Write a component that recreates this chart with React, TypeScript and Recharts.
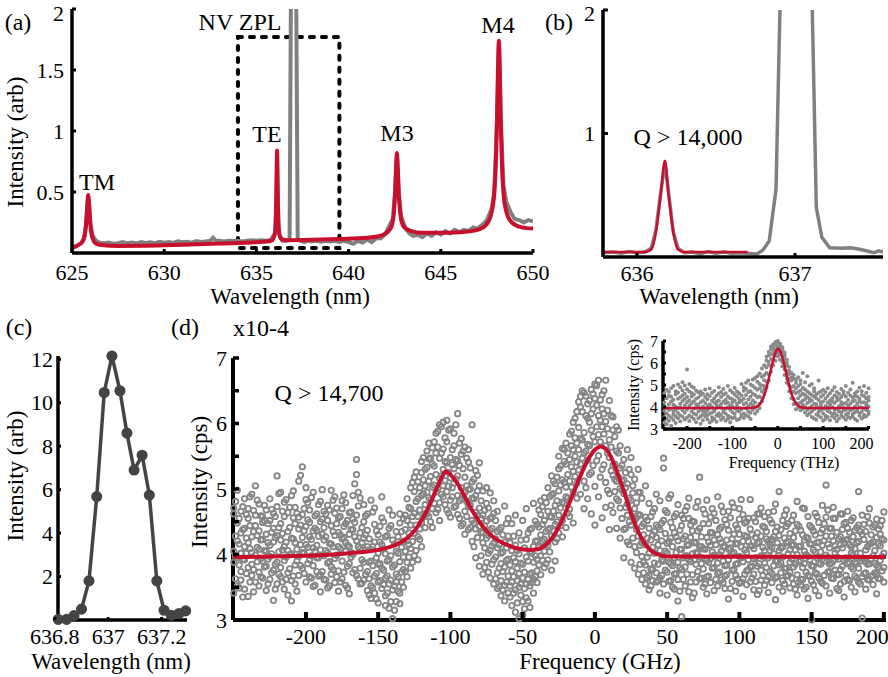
import type { CSSProperties } from 'react'
import { ComposedChart, Line, Scatter, XAxis, YAxis, ReferenceArea } from 'recharts'

const W = 888
const H = 677
const RED = '#c8102e'
const GRAY = '#808080'
const DARK = '#444444'
const FONT = "'Liberation Serif', 'DejaVu Serif', serif"
const AX_W = 30 // room reserved for each y axis
const AX_H = 30 // room reserved for each x axis
const TICK_PX = 22
const TITLE_PX = 23

// (a) PL spectrum, wavelength (nm) vs intensity (arb)
const spectrumRaw: [number, number][] = [
  [625, 0.045], [625.25, 0.06], [625.5, 0.08], [625.65, 0.12], [625.75, 0.22], [625.83, 0.38],
  [625.88, 0.46], [625.93, 0.39], [626.0, 0.24], [626.1, 0.15], [626.3, 0.1], [626.5, 0.085],
  [626.75, 0.08], [627, 0.085], [627.25, 0.075], [627.5, 0.08], [627.75, 0.09], [628, 0.08],
  [628.25, 0.085], [628.5, 0.078], [628.75, 0.09], [629, 0.083], [629.25, 0.088], [629.5, 0.08],
  [629.75, 0.092], [630, 0.085], [630.25, 0.09], [630.5, 0.082], [630.75, 0.095], [631, 0.088],
  [631.25, 0.092], [631.5, 0.085], [631.75, 0.098], [632, 0.09], [632.25, 0.095], [632.5, 0.1],
  [632.65, 0.125], [632.8, 0.1], [633, 0.1], [633.25, 0.095], [633.5, 0.1], [633.75, 0.098],
  [634, 0.1], [634.25, 0.095], [634.5, 0.1], [634.75, 0.105], [635, 0.1], [635.25, 0.105],
  [635.5, 0.1], [635.75, 0.105], [636.02, 0.16], [636.08, 0.45], [636.12, 0.8], [636.16, 0.45],
  [636.22, 0.16], [636.4, 0.1], [636.6, 0.1], [636.8, 0.11], [636.89, 2.6], [637.14, 2.6],
  [637.24, 0.11], [637.4, 0.1], [637.6, 0.09], [637.8, 0.1], [638, 0.095], [638.25, 0.1],
  [638.5, 0.092], [638.75, 0.1], [639, 0.095], [639.25, 0.1], [639.5, 0.09], [639.75, 0.1],
  [640, 0.09], [640.25, 0.075], [640.5, 0.1], [640.75, 0.085], [641, 0.11], [641.25, 0.09],
  [641.5, 0.12], [641.75, 0.12], [642, 0.16], [642.2, 0.22], [642.4, 0.28], [642.52, 0.5],
  [642.62, 0.79], [642.72, 0.5], [642.85, 0.3], [643.1, 0.2], [643.3, 0.16], [643.5, 0.14],
  [643.75, 0.15], [644, 0.13], [644.25, 0.16], [644.5, 0.14], [644.75, 0.17], [645, 0.15],
  [645.25, 0.18], [645.5, 0.16], [645.75, 0.19], [646, 0.17], [646.25, 0.19], [646.5, 0.18],
  [646.75, 0.21], [647, 0.2], [647.25, 0.23], [647.5, 0.27], [647.75, 0.36], [647.9, 0.5],
  [648.05, 1.1], [648.15, 1.7], [648.25, 1.1], [648.4, 0.55], [648.55, 0.42], [648.8, 0.33],
  [649, 0.28], [649.25, 0.27], [649.5, 0.25], [649.75, 0.27], [650, 0.26],
]

const spectrumFit: [number, number][] = [
  [625, 0.04], [625.4, 0.07], [625.55, 0.09], [625.65, 0.12], [625.73, 0.185], [625.78, 0.265],
  [625.83, 0.39], [625.88, 0.475], [625.93, 0.39], [625.98, 0.265], [626.03, 0.185], [626.13, 0.113],
  [626.28, 0.08], [626.6, 0.065], [627.5, 0.058], [629, 0.06], [631, 0.068], [633, 0.077],
  [635, 0.088], [635.8, 0.1], [635.92, 0.12], [636.02, 0.18], [636.06, 0.29], [636.09, 0.53],
  [636.12, 0.84], [636.15, 0.53], [636.18, 0.29], [636.22, 0.18], [636.32, 0.12], [636.6, 0.105],
  [638, 0.108], [639.5, 0.115], [641, 0.125], [641.8, 0.145], [642.22, 0.19], [642.37, 0.24],
  [642.47, 0.36], [642.52, 0.485], [642.57, 0.69], [642.62, 0.82], [642.67, 0.69], [642.72, 0.485],
  [642.77, 0.37], [642.87, 0.26], [643.02, 0.21], [643.4, 0.18], [644, 0.165], [645, 0.165],
  [646, 0.17], [647, 0.19], [647.45, 0.23], [647.75, 0.33], [647.9, 0.49], [648, 0.8],
  [648.05, 1.1], [648.1, 1.51], [648.15, 1.74], [648.2, 1.51], [648.25, 1.1], [648.3, 0.8],
  [648.4, 0.49], [648.55, 0.34], [648.85, 0.25], [649.4, 0.21], [650, 0.2],
]

// (b) close-up of the TE mode next to the NV ZPL
const zoomRaw: [number, number][] = [
  [635.785, 0.035], [635.85, 0.04], [635.9, 0.03], [635.95, 0.045], [636, 0.035], [636.05, 0.04],
  [636.09, 0.07], [636.12, 0.22], [636.15, 0.52], [636.177, 0.76], [636.2, 0.52], [636.23, 0.2],
  [636.26, 0.07], [636.3, 0.035], [636.35, 0.04], [636.4, 0.025], [636.45, 0.045], [636.5, 0.03],
  [636.55, 0.04], [636.6, 0.03], [636.65, 0.035], [636.7, 0.03], [636.76, 0.025], [636.8, 0.06],
  [636.837, 0.13], [636.88, 0.55], [636.915, 2.6], [637.1, 2.6], [637.135, 0.4], [637.17, 0.16],
  [637.22, 0.075], [637.3, 0.07], [637.35, 0.075], [637.4, 0.065], [637.45, 0.05], [637.5, 0.035],
  [637.53, 0.05], [637.557, 0.04],
]

const zoomFit: [number, number][] = [
  [635.785, 0.04], [636.05, 0.04], [636.09, 0.06], [636.12, 0.2], [636.15, 0.5], [636.177, 0.78],
  [636.2, 0.5], [636.23, 0.2], [636.26, 0.06], [636.3, 0.04], [636.7, 0.04],
]

// (c) NV zero-phonon line
const zplRaw: [number, number][] = [
  [636.813, 0.03], [636.844, 0.03], [636.872, 0.2], [636.9, 0.5], [636.928, 1.8], [636.957, 5.68],
  [636.985, 10.47], [637.014, 12.15], [637.044, 10.55], [637.07, 8.6], [637.097, 6.9], [637.127, 7.58],
  [637.154, 5.75], [637.182, 1.8], [637.209, 0.45], [637.236, 0.22], [637.265, 0.3], [637.29, 0.42],
]

// (d) transmission sweep, first pass: each row is [GHz, counts...]
const sweepRows: number[][] = [
  [-250, 4.62, 3.41, 4.05, 3.88, 4.71], [-247.5, 3.95, 4.48, 3.52, 4.21, 4.98],
  [-245, 4.33, 3.74, 4.66, 4.02, 3.61], [-242.5, 4.12, 4.85, 3.47, 3.92, 4.4],
  [-240, 3.8, 4.55, 4.18, 3.36, 4.7], [-237.5, 4.27, 3.68, 4.92, 4.03, 3.85],
  [-235, 4.6, 3.99, 3.58, 4.44, 5.05], [-232.5, 3.73, 4.36, 4.08, 3.52, 4.77],
  [-230, 4.49, 3.9, 4.23, 3.64, 4.58], [-227.5, 4.05, 3.45, 4.68, 4.31, 3.82],
  [-225, 3.97, 4.52, 3.62, 4.85, 4.14], [-222.5, 4.4, 3.76, 4.19, 3.3, 4.63],
  [-220, 3.88, 4.73, 4.29, 3.55, 5.2], [-217.5, 4.22, 3.66, 4.47, 4.95, 3.8],
  [-215, 4.58, 3.91, 4.12, 3.47, 4.8], [-212.5, 3.72, 4.35, 4.06, 4.64, 3.38],
  [-210, 4.25, 3.6, 4.9, 4.01, 3.29], [-207.5, 4.47, 3.84, 4.18, 4.72, 3.55],
  [-205, 5.12, 3.97, 4.39, 3.68, 4.57], [-202.5, 4.03, 5.34, 4.61, 3.79, 4.26],
  [-200, 4.84, 4.15, 3.58, 4.43, 5.02], [-197.5, 3.92, 4.68, 4.27, 3.66, 4.49],
  [-195, 4.36, 3.83, 4.95, 4.1, 3.51], [-192.5, 4.14, 4.62, 3.74, 4.37, 3.95],
  [-190, 3.69, 4.5, 4.07, 4.81, 3.43], [-187.5, 4.41, 3.98, 4.66, 3.62, 4.22],
  [-185, 4.75, 4.03, 3.87, 4.52, 3.49], [-182.5, 3.81, 4.44, 4.98, 4.16, 3.7],
  [-180, 4.29, 3.57, 4.63, 4.88, 3.94], [-177.5, 4.56, 4.12, 3.75, 4.34, 3.44],
  [-175, 3.9, 4.7, 4.24, 3.63, 4.82], [-172.5, 4.18, 3.53, 4.47, 4.05, 4.79],
  [-170, 4.64, 3.86, 4.31, 3.4, 4.12], [-167.5, 4.0, 4.54, 3.72, 4.38, 4.9],
  [-165, 5.45, 4.21, 3.68, 4.6, 5.22], [-162.5, 4.33, 3.79, 4.86, 3.55, 4.09],
  [-160, 4.25, 3.61, 4.5, 3.88, 4.76], [-157.5, 3.74, 4.37, 3.45, 4.12, 4.62],
  [-155, 4.08, 3.52, 4.83, 3.9, 3.33], [-152.5, 4.46, 3.67, 4.19, 3.41, 4.71],
  [-150, 3.85, 4.3, 3.58, 4.02, 3.26], [-147.5, 4.15, 3.48, 4.56, 3.79, 4.88],
  [-145, 3.64, 4.27, 3.37, 4.01, 3.22], [-142.5, 4.4, 3.55, 3.92, 3.18, 4.68],
  [-140, 3.02, 3.81, 4.22, 3.46, 4.6], [-137.5, 3.7, 4.35, 3.28, 4.05, 3.58],
  [-135, 4.48, 3.41, 3.89, 4.62, 3.25], [-132.5, 3.96, 4.55, 3.5, 4.2, 3.77],
  [-130, 4.52, 3.88, 4.85, 4.21, 3.66], [-127.5, 4.7, 4.09, 5.02, 3.79, 4.45],
  [-125, 4.96, 4.32, 3.98, 4.63, 5.18], [-122.5, 4.58, 5.11, 4.27, 4.85, 3.92],
  [-120, 5.25, 4.49, 4.9, 4.12, 5.42], [-117.5, 4.76, 5.3, 4.41, 5.05, 4.62],
  [-115, 5.12, 4.58, 5.46, 4.87, 5.7], [-112.5, 4.7, 5.38, 5.03, 4.41, 5.63],
  [-110, 5.55, 4.95, 5.22, 4.64, 5.85], [-107.5, 5.98, 5.16, 4.79, 5.47, 4.52],
  [-105, 5.3, 6.02, 4.88, 5.61, 5.05], [-102.5, 4.96, 5.72, 5.4, 6.05, 4.68],
  [-100, 5.48, 4.83, 5.92, 5.17, 4.57], [-97.5, 5.66, 5.09, 4.72, 5.85, 5.31],
  [-95, 4.9, 6.15, 5.43, 4.61, 5.2], [-92.5, 5.77, 5.02, 4.44, 5.53, 4.85],
  [-90, 5.18, 4.66, 5.64, 4.95, 4.31], [-87.5, 4.73, 5.41, 4.99, 5.6, 4.38],
  [-85, 5.98, 4.52, 5.11, 4.2, 4.86], [-82.5, 4.64, 5.28, 3.95, 4.9, 4.39],
  [-80, 4.43, 5.05, 3.82, 4.71, 5.4], [-77.5, 4.97, 4.18, 4.6, 3.7, 4.33],
  [-75, 4.25, 4.78, 3.88, 4.51, 5.02], [-72.5, 4.55, 3.64, 4.37, 4.94, 4.06],
  [-70, 3.92, 4.63, 4.17, 3.55, 4.82], [-67.5, 4.35, 3.72, 4.1, 3.48, 4.66],
  [-65, 3.86, 4.41, 3.37, 4.02, 3.6], [-62.5, 4.19, 3.53, 4.74, 3.81, 3.29],
  [-60, 3.67, 4.28, 3.93, 3.41, 4.55], [-57.5, 4.06, 3.22, 3.75, 4.47, 3.58],
  [-55, 3.46, 4.14, 3.12, 3.89, 4.6], [-52.5, 3.02, 3.71, 4.33, 3.5, 4.01],
  [-50, 3.85, 3.28, 4.52, 3.64, 3.08], [-47.5, 4.23, 3.55, 3.96, 3.34, 4.7],
  [-45, 3.7, 4.38, 3.19, 4.05, 3.52], [-42.5, 4.12, 3.62, 4.78, 3.88, 3.41],
  [-40, 3.93, 4.46, 3.57, 4.21, 3.75], [-37.5, 4.3, 3.69, 4.61, 3.98, 4.82],
  [-35, 4.05, 4.52, 3.8, 4.87, 4.23], [-32.5, 4.66, 3.92, 4.38, 5.02, 4.14],
  [-30, 4.28, 4.91, 3.76, 4.57, 5.2], [-27.5, 4.75, 4.19, 5.08, 4.46, 3.9],
  [-25, 5.31, 4.6, 4.33, 4.97, 5.5], [-22.5, 4.52, 5.14, 4.8, 5.62, 4.27],
  [-20, 5.03, 4.41, 5.38, 4.88, 5.7], [-17.5, 5.45, 4.69, 5.84, 5.12, 4.58],
  [-15, 4.95, 5.6, 5.27, 6.02, 4.48], [-12.5, 5.7, 5.09, 6.18, 4.86, 5.41],
  [-10, 5.38, 6.25, 4.92, 5.77, 6.41], [-7.5, 5.86, 5.12, 6.47, 4.7, 5.55],
  [-5, 6.08, 5.44, 4.85, 6.3, 5.68], [-2.5, 5.25, 6.52, 5.9, 4.62, 6.15],
  [0, 5.72, 6.38, 5.04, 6.6, 4.45], [2.5, 6.66, 5.51, 6.12, 4.88, 5.83],
  [5, 5.3, 6.44, 4.56, 5.95, 6.22], [7.5, 6.66, 5.66, 5.1, 6.03, 4.72],
  [10, 5.48, 4.93, 6.35, 5.75, 4.38], [12.5, 5.9, 5.21, 4.64, 6.1, 5.36],
  [15, 4.85, 5.58, 5.12, 4.4, 5.95], [17.5, 5.32, 4.71, 5.66, 4.25, 5.01],
  [20, 4.93, 5.45, 4.38, 5.14, 3.95], [22.5, 5.6, 4.6, 4.19, 5.08, 4.77],
  [25, 4.45, 5.22, 3.88, 4.83, 5.48], [27.5, 4.7, 4.12, 5.15, 3.79, 4.52],
  [30, 4.28, 4.95, 3.7, 4.61, 5.3], [32.5, 4.86, 3.97, 4.43, 3.62, 4.18],
  [35, 3.84, 4.57, 4.15, 5.05, 3.55], [37.5, 4.4, 3.68, 4.78, 4.02, 3.46],
  [40, 4.11, 4.65, 3.77, 4.3, 3.6], [42.5, 3.72, 4.26, 4.92, 3.58, 4.45],
  [45, 4.38, 3.64, 4.06, 4.82, 3.41], [47.5, 5.47, 3.9, 4.52, 3.55, 5.32],
  [50, 4.17, 3.73, 4.64, 3.38, 4.02], [52.5, 3.86, 4.49, 3.6, 4.25, 4.91],
  [55, 4.58, 3.95, 3.47, 4.33, 3.7], [57.5, 3.62, 4.21, 4.76, 3.88, 3.29],
  [60, 4.44, 3.05, 4.08, 3.77, 4.6], [62.5, 3.98, 4.67, 3.52, 4.28, 3.81],
  [65, 4.15, 3.43, 4.55, 3.92, 4.86], [67.5, 3.69, 4.36, 4.01, 3.34, 4.51],
  [70, 4.72, 3.85, 4.19, 3.58, 4.03], [72.5, 5.18, 3.96, 3.63, 4.4, 4.12],
  [75, 3.78, 4.47, 3.5, 4.09, 4.69], [77.5, 4.26, 3.66, 4.83, 3.91, 3.4],
  [80, 3.94, 4.57, 4.14, 3.57, 4.34], [82.5, 4.63, 3.8, 3.45, 4.22, 3.99],
  [85, 3.71, 4.3, 4.88, 3.87, 3.52], [87.5, 4.18, 3.61, 4.42, 4.05, 4.74],
  [90, 3.83, 4.53, 3.48, 4.12, 3.67], [92.5, 4.37, 3.92, 4.66, 3.32, 4.08],
  [95, 4.01, 3.59, 4.24, 4.79, 3.76], [97.5, 3.68, 4.45, 3.85, 4.16, 3.44],
  [100, 4.54, 3.97, 3.56, 4.31, 4.7], [102.5, 3.89, 4.2, 4.61, 3.63, 3.36],
  [105, 4.27, 3.75, 4.03, 4.5, 3.54], [107.5, 3.58, 4.39, 3.81, 4.13, 4.84],
  [110, 4.09, 3.46, 4.56, 3.93, 3.7], [112.5, 4.62, 3.82, 4.17, 3.39, 4.33],
  [115, 3.76, 4.28, 3.61, 4.71, 3.98], [117.5, 4.41, 3.53, 4.06, 3.87, 4.58],
  [120, 3.95, 4.64, 3.42, 4.2, 3.66], [122.5, 4.23, 3.71, 4.48, 3.57, 4.11],
  [125, 3.64, 4.35, 3.9, 4.77, 3.31], [127.5, 4.96, 3.84, 4.29, 3.5, 4.06],
  [130, 4.12, 3.6, 4.52, 3.96, 3.44], [132.5, 3.79, 4.43, 3.67, 4.18, 4.68],
  [135, 4.32, 3.88, 3.49, 4.07, 3.73], [137.5, 3.55, 4.15, 4.6, 3.81, 4.26],
  [140, 4.46, 3.69, 4.0, 3.38, 4.81], [142.5, 3.91, 4.37, 3.54, 4.13, 3.62],
  [145, 4.05, 3.47, 4.7, 3.86, 4.22], [147.5, 3.68, 4.25, 3.33, 4.58, 3.97],
  [150, 3.0, 3.83, 4.41, 3.59, 4.16], [152.5, 4.3, 3.72, 4.04, 3.45, 4.63],
  [155, 3.87, 4.49, 3.64, 4.19, 3.37], [157.5, 4.14, 3.56, 4.75, 3.93, 4.38],
  [160, 5.06, 3.99, 3.52, 4.28, 4.57], [162.5, 3.74, 4.4, 3.85, 3.41, 4.1],
  [165, 4.55, 3.63, 4.21, 3.9, 4.72], [167.5, 3.96, 4.34, 3.48, 4.08, 3.7],
  [170, 4.27, 3.77, 4.62, 3.55, 4.15], [172.5, 3.59, 4.18, 3.92, 4.47, 3.35],
  [175, 4.4, 3.86, 3.62, 4.23, 4.66], [177.5, 3.81, 4.52, 4.02, 3.5, 4.12],
  [180, 4.09, 3.67, 4.37, 3.88, 3.43], [182.5, 4.96, 4.2, 3.58, 4.45, 3.79],
  [185, 3.03, 3.94, 4.31, 3.66, 4.6], [187.5, 4.35, 3.72, 4.07, 3.47, 3.89],
  [190, 3.86, 4.48, 3.61, 4.16, 4.7], [192.5, 4.19, 3.54, 4.42, 3.98, 3.68],
  [195, 3.7, 4.26, 3.84, 4.54, 3.4], [197.5, 4.44, 3.91, 4.13, 3.63, 4.31],
  [200, 4.02, 3.58, 4.65, 3.8, 4.22],
]

// (d) second pass, offset by half a step
const sweepRowsB: number[][] = [
  [-248.75, 4.28, 3.63, 4.81, 3.97], [-246.25, 3.49, 4.16, 4.55, 3.84], [-243.75, 4.73, 3.92, 3.35, 4.38],
  [-241.25, 4.02, 4.61, 3.71, 4.25], [-238.75, 3.58, 4.44, 4.09, 4.88], [-236.25, 4.35, 3.77, 4.67, 3.43],
  [-233.75, 4.11, 4.83, 3.89, 4.29], [-231.25, 3.66, 4.22, 4.59, 3.94], [-228.75, 4.52, 3.81, 4.06, 4.75],
  [-226.25, 3.93, 4.47, 3.55, 4.18], [-223.75, 4.69, 4.01, 3.72, 4.34], [-221.25, 3.85, 4.58, 4.26, 3.47],
  [-218.75, 4.41, 3.7, 4.93, 4.04], [-216.25, 4.07, 4.66, 3.58, 4.32], [-213.75, 4.84, 3.96, 4.19, 3.62],
  [-211.25, 3.78, 4.41, 4.72, 4.0], [-208.75, 4.56, 3.67, 4.24, 4.97], [-206.25, 3.9, 4.63, 4.08, 3.44],
  [-203.75, 4.45, 3.83, 5.21, 4.15], [-201.25, 4.7, 4.02, 3.71, 4.36], [-198.75, 3.86, 4.53, 4.11, 4.79],
  [-196.25, 4.23, 3.64, 4.87, 3.98], [-193.75, 4.59, 4.05, 3.53, 4.4], [-191.25, 3.95, 4.76, 4.28, 3.67],
  [-188.75, 4.31, 3.74, 4.54, 4.99], [-186.25, 4.06, 4.62, 3.61, 4.27], [-183.75, 4.68, 3.89, 4.17, 3.52],
  [-181.25, 3.77, 4.35, 4.83, 4.12], [-178.75, 4.47, 3.99, 3.66, 4.71], [-176.25, 4.09, 4.58, 4.3, 3.58],
  [-173.75, 3.73, 4.26, 4.91, 4.43], [-171.25, 4.52, 3.82, 4.14, 3.49], [-168.75, 3.96, 4.65, 4.38, 4.03],
  [-166.25, 4.27, 5.08, 3.77, 4.49], [-163.75, 4.74, 4.12, 3.63, 4.95], [-161.25, 3.92, 4.41, 3.56, 4.18],
  [-158.75, 4.3, 3.7, 4.07, 4.59], [-156.25, 3.63, 4.24, 3.88, 3.38], [-153.75, 4.12, 3.49, 4.65, 3.83],
  [-151.25, 3.71, 4.36, 3.95, 3.32], [-148.75, 4.43, 3.86, 3.6, 4.19], [-146.25, 3.54, 4.09, 4.5, 3.76],
  [-143.75, 3.9, 3.41, 4.29, 3.67], [-141.25, 3.28, 3.98, 3.61, 4.44], [-138.75, 4.16, 3.52, 3.84, 3.15],
  [-136.25, 3.66, 4.27, 3.44, 4.02], [-133.75, 4.35, 3.73, 4.11, 3.58], [-131.25, 4.05, 4.6, 3.74, 4.38],
  [-128.75, 4.33, 3.96, 4.72, 4.15], [-126.25, 4.58, 4.2, 5.1, 3.88], [-123.75, 4.81, 4.45, 4.06, 5.26],
  [-121.25, 4.39, 5.02, 4.68, 4.23], [-118.75, 5.14, 4.57, 4.93, 5.48], [-116.25, 4.95, 5.33, 4.62, 5.58],
  [-113.75, 5.47, 4.84, 5.19, 4.5], [-111.25, 5.06, 5.72, 4.78, 5.35], [-108.75, 5.64, 5.01, 5.88, 4.69],
  [-106.25, 4.92, 5.55, 5.2, 5.95], [-103.75, 5.78, 5.13, 4.76, 5.42], [-101.25, 5.25, 5.9, 5.04, 4.63],
  [-98.75, 5.02, 5.6, 4.88, 5.37], [-96.25, 5.45, 4.74, 5.98, 5.15], [-93.75, 4.82, 5.36, 5.7, 4.55],
  [-91.25, 5.31, 4.9, 4.47, 5.58], [-88.75, 5.05, 4.58, 5.47, 4.81], [-86.25, 4.75, 5.32, 4.41, 5.0],
  [-83.75, 5.15, 4.48, 4.85, 4.12], [-81.25, 4.6, 4.97, 4.26, 5.21], [-78.75, 4.34, 4.82, 3.98, 4.55],
  [-76.25, 4.68, 4.1, 4.44, 3.8], [-73.75, 4.02, 4.71, 4.29, 3.73], [-71.25, 4.4, 3.85, 4.57, 4.13],
  [-68.75, 3.96, 4.52, 3.63, 4.24], [-66.25, 4.38, 3.79, 4.15, 3.51], [-63.75, 3.74, 4.3, 3.46, 4.04],
  [-61.25, 4.1, 3.58, 3.91, 4.47], [-58.75, 3.52, 4.18, 3.35, 3.84], [-56.25, 3.95, 3.41, 4.28, 3.66],
  [-53.75, 3.6, 4.06, 3.26, 3.79], [-51.25, 3.38, 3.87, 3.55, 4.22], [-48.75, 3.73, 3.17, 4.1, 3.48],
  [-46.25, 3.9, 4.33, 3.62, 3.29], [-43.75, 3.57, 4.02, 4.4, 3.72], [-41.25, 4.2, 3.66, 3.98, 4.51],
  [-38.75, 3.84, 4.42, 4.11, 4.68], [-36.25, 4.46, 3.91, 4.73, 4.2], [-33.75, 4.17, 4.79, 4.35, 3.86],
  [-31.25, 4.58, 4.04, 4.88, 4.4], [-28.75, 4.93, 4.36, 4.66, 5.12], [-26.25, 4.5, 5.18, 4.82, 4.24],
  [-23.75, 5.06, 4.71, 5.35, 4.44], [-21.25, 4.78, 5.42, 5.1, 5.6], [-18.75, 5.22, 4.86, 5.55, 4.63],
  [-16.25, 5.66, 5.03, 5.34, 5.88], [-13.75, 5.19, 5.78, 5.5, 6.08], [-11.25, 5.94, 5.29, 6.33, 5.6],
  [-8.75, 5.47, 6.18, 5.75, 6.5], [-6.25, 6.12, 5.58, 6.42, 5.02], [-3.75, 5.66, 6.35, 5.22, 6.02],
  [-1.25, 6.45, 5.8, 6.22, 5.36], [1.25, 5.95, 6.58, 5.43, 6.28], [3.75, 6.36, 5.72, 6.05, 5.18],
  [6.25, 5.84, 6.5, 5.37, 6.15], [8.75, 6.2, 5.55, 5.92, 4.98], [11.25, 5.64, 6.12, 5.28, 4.75],
  [13.75, 5.38, 4.96, 5.8, 5.15], [16.25, 5.18, 5.55, 4.82, 5.9], [18.75, 4.98, 5.36, 4.55, 5.12],
  [21.25, 5.25, 4.72, 5.02, 4.4], [23.75, 4.86, 5.3, 4.5, 4.15], [26.25, 4.58, 4.94, 4.25, 5.05],
  [28.75, 4.38, 4.79, 4.03, 4.56], [31.25, 4.14, 4.6, 3.85, 4.95], [33.75, 4.47, 3.88, 4.3, 3.72],
  [36.25, 3.96, 4.52, 3.65, 4.25], [38.75, 4.22, 3.78, 4.58, 3.52], [41.25, 3.87, 4.35, 4.02, 4.7],
  [43.75, 4.15, 3.6, 4.42, 3.85], [46.25, 3.92, 4.48, 3.68, 4.21], [48.75, 4.32, 3.76, 4.05, 4.67],
  [51.25, 3.59, 4.2, 4.86, 3.88], [53.75, 4.41, 3.83, 4.12, 3.5], [56.25, 4.03, 4.62, 3.71, 4.27],
  [58.75, 3.8, 4.37, 3.44, 4.08], [61.25, 4.55, 3.95, 4.24, 3.62], [63.75, 3.7, 4.14, 4.73, 3.98],
  [66.25, 4.26, 3.58, 3.89, 4.45], [68.75, 3.92, 4.5, 4.18, 3.41], [71.25, 4.36, 3.74, 4.02, 4.81],
  [73.75, 3.64, 4.27, 3.86, 4.12], [76.25, 4.08, 4.62, 3.55, 3.93], [78.75, 4.47, 3.88, 4.19, 3.67],
  [81.25, 3.79, 4.33, 4.7, 4.04], [83.75, 4.15, 3.62, 3.96, 4.52], [86.25, 4.39, 4.0, 3.73, 4.24],
  [88.75, 3.57, 4.12, 3.9, 4.65], [91.25, 4.22, 3.69, 4.46, 3.84], [93.75, 3.98, 4.56, 4.1, 3.48],
  [96.25, 4.31, 3.77, 4.03, 4.72], [98.75, 3.86, 4.4, 3.63, 4.17], [101.25, 4.12, 3.58, 4.84, 3.95],
  [103.75, 4.48, 4.07, 3.7, 4.29], [106.25, 3.76, 4.2, 3.92, 4.55], [108.75, 4.3, 3.64, 4.13, 3.82],
  [111.25, 3.95, 4.5, 3.59, 4.26], [113.75, 4.19, 3.86, 4.62, 3.45], [116.25, 3.68, 4.11, 3.97, 4.43],
  [118.75, 4.35, 3.8, 4.24, 3.61], [121.25, 4.06, 4.53, 3.74, 4.15], [123.75, 3.83, 4.27, 4.01, 4.66],
  [126.25, 4.42, 3.66, 4.18, 3.9], [128.75, 3.72, 4.38, 3.87, 4.1], [131.25, 4.25, 3.79, 4.6, 3.55],
  [133.75, 4.01, 4.47, 3.68, 4.2], [136.25, 3.64, 4.14, 3.93, 4.52], [138.75, 4.36, 3.85, 4.07, 3.47],
  [141.25, 4.12, 3.58, 4.43, 3.89], [143.75, 3.8, 4.3, 3.62, 4.71], [146.25, 4.26, 3.73, 4.0, 3.5],
  [148.75, 3.92, 4.44, 3.66, 4.16], [151.25, 3.54, 4.07, 4.36, 3.82], [153.75, 4.18, 3.7, 3.95, 4.58],
  [156.25, 3.85, 4.33, 3.59, 4.04], [158.75, 4.47, 3.9, 4.21, 3.68], [161.25, 3.73, 4.16, 4.68, 3.96],
  [163.75, 4.28, 3.64, 3.87, 4.4], [166.25, 4.02, 4.55, 3.76, 4.13], [168.75, 3.69, 4.24, 3.93, 3.45],
  [171.25, 4.38, 3.82, 4.1, 4.62], [173.75, 3.95, 4.49, 3.68, 4.22], [176.25, 4.15, 3.6, 4.34, 3.88],
  [178.75, 3.78, 4.27, 4.56, 3.99], [181.25, 4.41, 3.86, 3.64, 4.18], [183.75, 3.9, 4.35, 4.02, 3.55],
  [186.25, 4.23, 3.71, 4.46, 3.94], [188.75, 3.62, 4.12, 3.85, 4.58], [191.25, 4.3, 3.93, 4.17, 3.67],
  [193.75, 3.87, 4.45, 3.72, 4.06], [196.25, 4.16, 3.63, 4.39, 3.81], [198.75, 3.97, 4.52, 3.75, 4.24],
]

const sweepFit: [number, number][] = [
  [-250.5, 3.96], [-200, 3.98], [-170, 4.02], [-150, 4.07], [-140, 4.13], [-130, 4.25], [-125, 4.36],
  [-120, 4.52], [-115, 4.73], [-110, 4.98], [-106, 5.18], [-103, 5.27], [-100, 5.22], [-95, 5.08],
  [-90, 4.88], [-85, 4.67], [-80, 4.5], [-75, 4.36], [-70, 4.26], [-65, 4.19], [-60, 4.14],
  [-55, 4.1], [-50, 4.08], [-45, 4.07], [-40, 4.08], [-35, 4.13], [-30, 4.24], [-25, 4.42],
  [-20, 4.66], [-15, 4.93], [-10, 5.2], [-5, 5.44], [0, 5.6], [4, 5.65], [8, 5.6], [12, 5.45],
  [16, 5.22], [20, 4.97], [25, 4.63], [30, 4.35], [35, 4.15], [40, 4.04], [45, 3.99], [50, 3.97],
  [201.5, 3.96],
]

// inset: wide sweep, each row is [THz, counts...]
const wideRows: number[][] = [
  [-250, 4.2, 3.55, 4.62, 3.82, 3.3, 4.05], [-245, 3.7, 4.4, 3.45, 4.78, 3.95, 3.22],
  [-240, 4.51, 3.88, 4.12, 3.38, 4.69, 3.6], [-235, 3.92, 4.85, 3.52, 4.25, 3.15, 4.47],
  [-230, 4.33, 3.66, 4.95, 3.79, 4.1, 3.41], [-225, 3.58, 4.58, 4.02, 3.27, 4.72, 3.86],
  [-220, 4.66, 3.94, 3.49, 4.38, 3.73, 5.02], [-215, 4.15, 4.9, 3.63, 4.44, 3.35, 3.98],
  [-210, 3.85, 4.52, 5.12, 3.56, 4.27, 4.75], [-205, 4.6, 3.74, 4.36, 4.98, 3.43, 4.08],
  [-200, 5.7, 4.22, 3.89, 4.81, 3.52, 4.45], [-195, 4.05, 4.7, 3.61, 5.05, 4.31, 3.36],
  [-190, 4.48, 3.8, 4.93, 4.16, 3.54, 4.64], [-185, 3.93, 4.57, 3.46, 4.26, 4.88, 3.7],
  [-180, 4.37, 3.65, 4.12, 4.74, 3.31, 3.96], [-175, 3.78, 4.43, 3.99, 3.49, 4.67, 4.1],
  [-170, 4.22, 3.58, 4.55, 3.87, 3.24, 4.71], [-165, 3.67, 4.3, 3.83, 4.6, 3.4, 4.02],
  [-160, 4.46, 3.91, 3.57, 4.18, 4.79, 3.73], [-155, 3.84, 4.35, 4.06, 3.44, 4.58, 3.62],
  [-150, 4.13, 3.69, 4.5, 3.96, 3.29, 4.84], [-145, 3.75, 4.28, 3.53, 4.65, 4.0, 3.38],
  [-140, 4.4, 3.81, 4.19, 3.47, 4.73, 3.9], [-135, 3.63, 4.52, 3.95, 4.24, 3.33, 4.09],
  [-130, 4.29, 3.72, 4.61, 3.58, 4.03, 4.9], [-125, 3.97, 4.45, 3.64, 4.14, 3.42, 4.68],
  [-120, 4.56, 3.86, 4.25, 3.51, 4.82, 3.77], [-115, 3.7, 4.33, 3.92, 4.62, 3.37, 4.17],
  [-110, 4.21, 3.6, 4.48, 3.99, 4.95, 3.46], [-105, 3.88, 4.4, 3.55, 4.76, 4.07, 3.31],
  [-100, 4.35, 3.76, 4.66, 4.02, 3.49, 4.2], [-95, 3.94, 4.57, 3.68, 4.28, 4.86, 3.52],
  [-90, 4.48, 3.83, 4.15, 3.41, 4.7, 4.01], [-85, 3.79, 4.36, 3.96, 4.63, 3.45, 4.22],
  [-80, 4.27, 3.65, 4.52, 3.9, 5.05, 3.58], [-75, 4.12, 4.74, 3.71, 4.38, 3.5, 4.9],
  [-70, 4.55, 3.93, 4.82, 4.18, 3.62, 5.1], [-65, 4.03, 4.68, 3.8, 5.2, 4.34, 3.57],
  [-60, 4.72, 4.16, 5.02, 3.74, 4.47, 3.45], [-55, 4.3, 4.95, 3.88, 4.6, 5.25, 4.08],
  [-50, 4.86, 4.21, 5.32, 3.97, 4.55, 3.7], [-45, 4.44, 5.15, 4.02, 4.78, 3.82, 5.4],
  [-40, 5.05, 4.48, 5.52, 4.15, 4.85, 3.95], [-35, 4.7, 5.38, 4.25, 5.75, 4.98, 4.4],
  [-30, 5.45, 4.82, 5.9, 4.6, 5.22, 4.95], [-25, 5.8, 5.15, 6.1, 4.9, 5.55, 6.28],
  [-20, 6.05, 5.48, 6.35, 5.2, 5.92, 6.5], [-15, 6.4, 5.85, 6.62, 5.6, 6.18, 6.75],
  [-10, 6.55, 6.12, 6.85, 5.9, 6.38, 6.7], [-5, 6.8, 6.35, 6.95, 6.1, 6.6, 6.48],
  [0, 6.92, 6.58, 7.0, 6.3, 6.75, 6.45], [5, 6.7, 6.4, 6.88, 6.15, 6.55, 6.82],
  [10, 6.5, 6.05, 6.72, 5.85, 6.3, 6.62], [15, 6.2, 5.7, 6.48, 5.45, 6.02, 6.35],
  [20, 5.88, 5.3, 6.15, 5.1, 5.62, 6.0], [25, 5.5, 4.98, 5.82, 4.72, 5.3, 5.65],
  [30, 5.2, 4.65, 5.55, 4.4, 4.9, 5.35], [35, 4.95, 4.35, 5.28, 4.12, 4.7, 5.45],
  [40, 4.62, 5.1, 4.18, 4.85, 3.9, 5.25], [45, 4.4, 4.95, 3.98, 4.68, 5.35, 4.15],
  [50, 4.75, 4.2, 5.05, 3.85, 4.52, 5.2], [55, 4.28, 4.88, 3.92, 4.6, 4.1, 5.55],
  [60, 4.55, 4.02, 4.8, 3.75, 4.35, 5.12], [65, 4.18, 4.7, 3.88, 4.45, 5.4, 3.62],
  [70, 4.62, 3.95, 4.38, 4.98, 3.7, 4.25], [75, 4.05, 4.55, 3.8, 4.3, 5.05, 3.55],
  [80, 4.48, 3.9, 4.72, 4.15, 3.48, 4.85], [85, 3.98, 4.4, 3.66, 4.58, 4.12, 3.42],
  [90, 4.32, 3.78, 4.65, 3.95, 5.2, 3.6], [95, 3.85, 4.47, 4.08, 3.52, 4.7, 4.2],
  [100, 4.25, 3.7, 4.55, 3.92, 3.38, 4.78], [105, 3.92, 4.38, 3.6, 4.68, 4.05, 3.45],
  [110, 4.5, 3.82, 4.2, 3.55, 4.85, 3.98], [115, 3.76, 4.3, 3.95, 4.62, 3.4, 4.12],
  [120, 4.4, 3.68, 4.75, 4.0, 3.58, 4.25], [125, 3.88, 4.52, 3.72, 4.18, 4.9, 3.5],
  [130, 4.28, 3.62, 4.45, 3.9, 3.35, 4.68], [135, 3.8, 4.35, 4.05, 3.48, 4.6, 3.95],
  [140, 4.45, 3.75, 4.22, 4.82, 3.6, 4.1], [145, 3.95, 4.58, 3.52, 4.15, 3.85, 4.7],
  [150, 4.18, 3.66, 4.48, 3.88, 4.95, 3.42], [155, 3.72, 4.32, 3.96, 4.65, 3.55, 4.08],
  [160, 4.52, 3.85, 4.15, 3.5, 4.8, 3.92], [165, 3.9, 4.42, 3.68, 4.25, 5.1, 3.58],
  [170, 4.3, 3.76, 4.62, 4.02, 3.45, 4.5], [175, 3.82, 4.48, 3.92, 4.7, 4.15, 3.38],
  [180, 4.38, 3.7, 4.25, 3.6, 4.88, 4.0], [185, 3.98, 4.55, 3.78, 4.2, 3.48, 4.72],
  [190, 4.22, 3.64, 4.5, 3.92, 4.95, 3.55], [195, 3.86, 4.4, 4.08, 3.58, 4.65, 4.18],
  [200, 4.45, 3.8, 4.3, 3.68, 4.85, 4.02],
]

const wideFit: [number, number][] = [
  [-253, 3.95], [-60, 3.96], [-50, 3.99], [-45, 4.03], [-40, 4.12], [-35, 4.28], [-30, 4.52],
  [-25, 4.86], [-20, 5.27], [-15, 5.71], [-10, 6.13], [-5, 6.48], [0, 6.65], [5, 6.55], [10, 6.25],
  [15, 5.85], [20, 5.42], [25, 4.98], [30, 4.62], [35, 4.35], [40, 4.16], [45, 4.06], [50, 4.0],
  [60, 3.96], [201, 3.95],
]

const xy = (rows: [number, number][]) => rows.map(([x, y]) => ({ x, y }))
const cloud = (...sets: number[][][]) =>
  sets.flatMap((rows) => rows.flatMap(([x, ...ys]) => ys.map((y) => ({ x, y }))))

const layer: CSSProperties = { position: 'absolute', left: 0, top: 0 }
const axisLine = (w: number) => ({ stroke: '#000', strokeWidth: w })

// plot box in page pixels -> chart margin, leaving room for the axes
const box = (left: number, top: number, right: number, bottom: number) => ({
  left: left - AX_W,
  top,
  right: W - right,
  bottom: H - bottom - AX_H,
})

interface TickOpts {
  len: number
  w: number
  gap: number
  size: number
  labels?: number[]
  last?: number
}

// ticks point into the plot, labels sit outside
const bottomTick = (o: TickOpts) => (p: any) => {
  const { x, y, payload } = p
  const v = payload.value as number
  const show = !o.labels || o.labels.includes(v)
  const isLast = o.last !== undefined && v === o.last
  return (
    <g>
      <line x1={x} x2={x} y1={y} y2={y - o.len} stroke="#000" strokeWidth={o.w} />
      {show && (
        <text x={isLast ? x + 5 : x} y={y + o.gap} textAnchor={isLast ? 'end' : 'middle'}
          dominantBaseline="central" fontSize={o.size} style={{ fontFamily: FONT }} fill="#000">{v}</text>
      )}
    </g>
  )
}

const leftTick = (o: TickOpts) => (p: any) => {
  const { x, y, payload } = p
  const v = payload.value as number
  const show = !o.labels || o.labels.includes(v)
  // keep the top label inside the page
  const ty = Math.max(y, o.size / 2 + 2)
  return (
    <g>
      <line x1={x} x2={x + o.len} y1={y} y2={y} stroke="#000" strokeWidth={o.w} />
      {show && (
        <text x={x - o.gap} y={ty} textAnchor="end" dominantBaseline="central"
          fontSize={o.size} style={{ fontFamily: FONT }} fill="#000">{v}</text>
      )}
    </g>
  )
}

const ring = (p: any) => <circle cx={p.cx} cy={p.cy} r={2.7} fill="none" stroke="#858585" strokeWidth={1.8} />
const dotSmall = (p: any) => <circle cx={p.cx} cy={p.cy} r={2} fill="#8a8a8a" />

const xCommon = { type: 'number' as const, dataKey: 'x', height: AX_H, tickSize: 0, tickMargin: 0, interval: 0 as const, tickLine: false }
const yCommon = { type: 'number' as const, dataKey: 'y', width: AX_W, tickSize: 0, tickMargin: 0, interval: 0 as const, tickLine: false }

function SpectrumPanel() {
  return (
    <div style={layer}>
      <ComposedChart width={W} height={H} margin={box(72, 9, 533, 253)}>
        <XAxis {...xCommon} allowDataOverflow domain={[625, 650]} ticks={[625, 630, 635, 640, 645, 650]}
          axisLine={axisLine(3.5)} tick={bottomTick({ len: 4, w: 3, gap: 19, size: TICK_PX })} />
        <YAxis {...yCommon} allowDataOverflow domain={[0, 2]} ticks={[0.5, 1, 1.5, 2]}
          axisLine={axisLine(3.5)} tick={leftTick({ len: 4, w: 3, gap: 8, size: TICK_PX })} />
        <ReferenceArea x1={634} x2={639.5} y1={0.04} y2={1.77} fill="none" stroke="#000" strokeWidth={4}
          strokeDasharray="4 8" strokeLinecap="round" ifOverflow="visible" />
        <Line data={xy(spectrumRaw)} dataKey="y" type="linear" stroke={GRAY} strokeWidth={4} dot={false}
          activeDot={false} isAnimationActive={false} />
        <Line data={xy(spectrumFit)} dataKey="y" type="monotone" stroke={RED} strokeWidth={4} dot={false}
          activeDot={false} isAnimationActive={false} />
      </ComposedChart>
    </div>
  )
}

function ZoomPanel() {
  return (
    <div style={layer}>
      <ComposedChart width={W} height={H} margin={box(603, 10, 883, 257)}>
        <XAxis {...xCommon} allowDataOverflow domain={[635.785, 637.557]} ticks={[636, 637]}
          axisLine={axisLine(3.5)} tick={bottomTick({ len: 4, w: 3, gap: 16, size: TICK_PX })} />
        <YAxis {...yCommon} allowDataOverflow domain={[0, 2]} ticks={[1, 2]}
          axisLine={axisLine(3.5)} tick={leftTick({ len: 5, w: 3, gap: 8, size: TICK_PX })} />
        <Line data={xy(zoomRaw)} dataKey="y" type="linear" stroke={GRAY} strokeWidth={3.5} dot={false}
          activeDot={false} isAnimationActive={false} />
        <Line data={xy(zoomFit)} dataKey="y" type="monotone" stroke={RED} strokeWidth={2.5} dot={false}
          activeDot={false} isAnimationActive={false} />
      </ComposedChart>
    </div>
  )
}

function ZplPanel() {
  return (
    <div style={layer}>
      <ComposedChart width={W} height={H} margin={box(58, 356, 187, 620)}>
        <XAxis {...xCommon} domain={[636.812, 637.295]} ticks={[636.8, 637, 637.2]}
          axisLine={axisLine(3.5)} tick={bottomTick({ len: 3, w: 3, gap: 16, size: TICK_PX })} />
        <YAxis {...yCommon} domain={[0, 12]} ticks={[2, 4, 6, 8, 10, 12]}
          axisLine={axisLine(3.5)} tick={leftTick({ len: 3, w: 3, gap: 5, size: TICK_PX })} />
        <Line data={xy(zplRaw)} dataKey="y" type="linear" stroke={DARK} strokeWidth={3.5}
          dot={{ r: 3.8, fill: DARK, stroke: DARK }} activeDot={false} isAnimationActive={false} />
      </ComposedChart>
    </div>
  )
}

function SweepPanel() {
  return (
    <div style={layer}>
      <ComposedChart width={W} height={H} margin={box(233, 358, 886, 620)}>
        <XAxis {...xCommon} domain={[-250.5, 201.5]} ticks={[-200, -150, -100, -50, 0, 50, 100, 150, 200]}
          axisLine={axisLine(4)} tick={bottomTick({ len: 8, w: 4, gap: 16, size: TICK_PX, last: 200 })} />
        <YAxis {...yCommon} domain={[3, 7]} ticks={[3, 3.5, 4, 4.5, 5, 5.5, 6, 6.5, 7]}
          axisLine={axisLine(4)} tick={leftTick({ len: 6, w: 3.5, gap: 6, size: TICK_PX, labels: [3, 4, 5, 6, 7] })} />
        <Scatter data={cloud(sweepRows, sweepRowsB)} dataKey="y" shape={ring} isAnimationActive={false} />
        <Line data={xy(sweepFit)} dataKey="y" type="monotone" stroke={RED} strokeWidth={4} dot={false}
          activeDot={false} isAnimationActive={false} zIndex={700} />
      </ComposedChart>
    </div>
  )
}

function InsetPanel() {
  return (
    <div style={layer}>
      <ComposedChart width={W} height={H} margin={box(663, 341, 869, 429)}>
        <XAxis {...xCommon} domain={[-253, 201]} ticks={[-200, -150, -100, -50, 0, 50, 100, 150, 200]}
          axisLine={axisLine(3.5)}
          tick={bottomTick({ len: 3, w: 3, gap: 14, size: 16, labels: [-200, -100, 0, 100, 200], last: 200 })} />
        <YAxis {...yCommon} domain={[3, 7]} ticks={[3, 3.5, 4, 4.5, 5, 5.5, 6, 6.5, 7]}
          axisLine={axisLine(3.5)} tick={leftTick({ len: 3, w: 3, gap: 5, size: 16, labels: [3, 4, 5, 6, 7] })} />
        <Scatter data={cloud(wideRows)} dataKey="y" shape={dotSmall} isAnimationActive={false} />
        <Line data={xy(wideFit)} dataKey="y" type="monotone" stroke={RED} strokeWidth={2.5} dot={false}
          activeDot={false} isAnimationActive={false} zIndex={700} />
      </ComposedChart>
    </div>
  )
}

function Txt({ x, y, size = 24, anchor = 'middle', rotate = false, children }: {
  x: number; y: number; size?: number; anchor?: 'start' | 'middle' | 'end'; rotate?: boolean; children: string
}) {
  return (
    <text x={x} y={y} fontSize={size} style={{ fontFamily: FONT }} fill="#000" textAnchor={anchor}
      dominantBaseline="central" transform={rotate ? `rotate(-90 ${x} ${y})` : undefined}>{children}</text>
  )
}

function Annotations() {
  return (
    <svg style={layer} width={W} height={H}>
      <Txt x={18} y={22}>(a)</Txt>
      <Txt x={240} y={22}>NV ZPL</Txt>
      <Txt x={97} y={182}>TM</Txt>
      <Txt x={267} y={134}>TE</Txt>
      <Txt x={397} y={133}>M3</Txt>
      <Txt x={498} y={25}>M4</Txt>
      <Txt x={15} y={142} size={TITLE_PX} rotate>Intensity (arb)</Txt>
      <Txt x={290} y={296} size={TITLE_PX}>Wavelength (nm)</Txt>

      <Txt x={559} y={22}>(b)</Txt>
      <Txt x={688} y={137}>{'Q > 14,000'}</Txt>
      <Txt x={719} y={296} size={TITLE_PX}>Wavelength (nm)</Txt>

      <Txt x={19} y={327}>(c)</Txt>
      <Txt x={15} y={476} size={TITLE_PX} rotate>Intensity (arb)</Txt>
      <Txt x={111} y={661} size={TITLE_PX}>Wavelength (nm)</Txt>

      <Txt x={185} y={327}>(d)</Txt>
      <Txt x={233} y={328} anchor="start">x10-4</Txt>
      <Txt x={329} y={393}>{'Q > 14,700'}</Txt>
      <Txt x={199} y={482} size={TITLE_PX} rotate>Intensity (cps)</Txt>
      <Txt x={600} y={661} size={TITLE_PX}>Frequency (GHz)</Txt>

      <Txt x={633} y={385} size={16} rotate>Intensity (cps)</Txt>
      <Txt x={784} y={462} size={16}>Frequency (THz)</Txt>
    </svg>
  )
}

export default function App() {
  return (
    <div style={{ position: 'absolute', left: 0, top: 0, width: W, height: H, background: '#fff', overflow: 'hidden' }}>
      <SpectrumPanel />
      <ZoomPanel />
      <ZplPanel />
      <SweepPanel />
      <InsetPanel />
      <Annotations />
    </div>
  )
}
